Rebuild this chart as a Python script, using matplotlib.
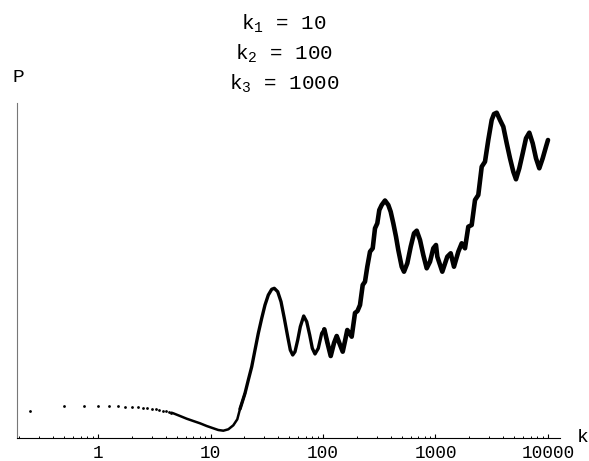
import numpy as np
import matplotlib
matplotlib.use('Agg')
import matplotlib.pyplot as plt

plt.rcParams['font.family'] = ['Liberation Mono', 'DejaVu Sans Mono']
plt.rcParams['mathtext.fontset'] = 'custom'
plt.rcParams['mathtext.rm'] = 'Liberation Mono'
plt.rcParams['mathtext.it'] = 'Liberation Mono'

# 低 k 区域的离散点 (步长 0.25)
k_dots = [0.25, 0.5, 0.75, 1.0, 1.25, 1.5, 1.75, 2.0, 2.25, 2.5,
          2.75, 3.0, 3.25, 3.5, 3.75, 4.0, 4.25, 4.5]
p_dots = [2.73, 3.23, 3.2, 3.2, 3.17, 3.17, 3.13, 3.1, 3.07, 3.02,
          2.97, 2.92, 2.87, 2.8, 2.73, 2.66, 2.6, 2.53]

# 连续曲线部分
k_line = [4.5, 4.67, 5.36, 6.14, 7.03, 8.07, 9.25, 10.59, 11.73, 13.0,
          14.4, 15.95, 17.3, 18.29, 20.26, 21.68, 23.25, 24.86, 26.6, 28.52,
          30.5, 32.65, 34.99, 36.9, 39.57, 42.34, 45.29, 48.56, 51.21, 53.8,
          56.38, 59.6, 62.85, 67.36, 71.64, 76.17, 80.34, 84.9, 90.83, 97.37,
          102.7, 109.6, 117.1, 125.3, 132.4, 140.7, 149.7, 156.9, 164.4, 172.0,
          179.9, 192.5, 202.6, 213.3, 225.4, 236.2, 247.6, 261.7, 276.6, 289.9,
          303.9, 316.6, 332.5, 355.7, 380.6, 399.6, 421.6, 445.6, 467.0, 500.7,
          524.8, 561.5, 602.0, 644.2, 680.8, 728.3, 779.2, 835.3, 893.8, 956.0,
          1010, 1038, 1149, 1273, 1365, 1460, 1595, 1710, 1829, 1957,
          2098, 2245, 2401, 2575, 2754, 2946, 3159, 3311, 3499, 3744,
          4006, 4296, 4595, 4916, 5195, 5558, 5959, 6375, 6820, 7311,
          7822, 8369, 8972, 9600, 10000]
p_line = [2.53, 2.47, 2.2, 1.93, 1.7, 1.47, 1.2, 0.97, 0.8, 0.73,
          0.87, 1.27, 1.87, 2.9, 4.47, 5.8, 7.13, 8.8, 10.47, 11.97,
          13.3, 14.3, 14.87, 14.97, 14.63, 13.63, 11.97, 10.13, 8.8, 8.3,
          8.63, 9.8, 11.13, 12.2, 11.63, 10.3, 8.97, 8.4, 8.97, 10.47,
          10.87, 9.5, 8.2, 9.5, 10.2, 9.4, 8.63, 9.7, 10.8, 10.5,
          10.13, 12.5, 12.7, 13.3, 15.3, 15.63, 17.13, 18.63, 18.97, 20.97,
          21.47, 22.8, 23.3, 23.75, 23.3, 22.63, 21.47, 20.13, 18.8, 17.13,
          16.63, 17.47, 19.13, 20.47, 20.73, 19.8, 18.3, 16.97, 17.63, 18.97,
          19.3, 18.13, 16.63, 18.13, 18.47, 17.13, 18.63, 19.47, 18.97, 21.13,
          21.3, 23.8, 24.3, 27.13, 27.63, 29.8, 31.8, 32.4, 32.53, 31.8,
          31.13, 29.47, 27.97, 26.63, 25.87, 26.97, 28.47, 29.97, 30.53, 29.47,
          27.97, 26.97, 27.97, 29.13, 29.8]

k_line = np.array(k_line)
p_line = np.array(p_line)

fig = plt.figure(figsize=(5.89, 4.61), dpi=100)
ax = fig.add_axes([17/589, 23/461, 543/589, 335.3/461])

ax.plot(k_dots, p_dots, 'o', color='black', ms=2.0, mec='none')
m1 = k_line <= 20.3
m2 = (k_line >= 18) & (k_line <= 110)
m3 = k_line >= 100
style = dict(color='black', solid_joinstyle='round', solid_capstyle='round')
ax.plot(k_line[m1], p_line[m1], lw=1.8, **style)
ax.plot(k_line[m2], p_line[m2], lw=2.4, **style)
ax.plot(k_line[m3], p_line[m3], lw=3.3, **style)

ax.set_xscale('log')
ax.set_xlim(0.1905, 12785)
ax.set_ylim(0, 33.53)

ax.spines['top'].set_visible(False)
ax.spines['right'].set_visible(False)
ax.spines['left'].set_color('#777777')
ax.spines['bottom'].set_color('black')
ax.set_yticks([])

ax.set_xticks([1, 10, 100, 1000, 10000])
ax.set_xticklabels(['1', '10', '100', '1000', '10000'])
ax.tick_params(axis='x', which='major', direction='in', length=3, width=0.8,
               labelsize=12.8, pad=5)
ax.tick_params(axis='x', which='minor', direction='in', length=1.8, width=0.7)

fig.text(18/589, 1 - 78/461, 'P', fontsize=14, ha='center', va='center')
fig.text(577/589, 1 - 437/461, 'k', fontsize=14, ha='left', va='center')

titles = [r'k$_{\mathrm{1}}$ = 10', r'k$_{\mathrm{2}}$ = 100', r'k$_{\mathrm{3}}$ = 1000']
for i, t in enumerate(titles):
    fig.text(284/589, 1 - (30 + 30*i)/461, t, fontsize=15, ha='center', va='baseline')

fig.savefig('out.png', dpi=100)
